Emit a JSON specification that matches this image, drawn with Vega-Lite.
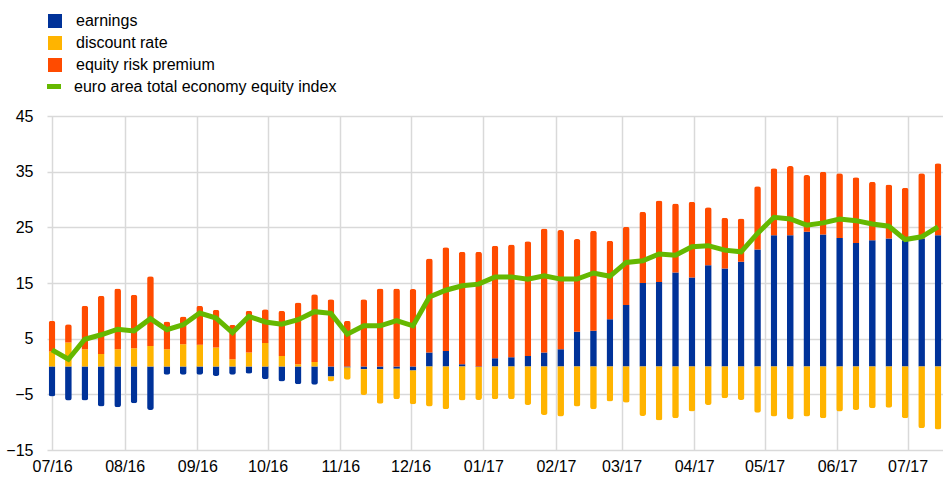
{
  "$schema": "https://vega.github.io/schema/vega-lite/v6.json",
  "width": 896,
  "height": 334,
  "autosize": "none",
  "padding": {"left": 47, "top": 116, "right": 0, "bottom": 27},
  "background": "white",
  "config": {
    "font": "Liberation Sans",
    "view": {"stroke": null},
    "axis": {
      "labelFont": "Liberation Sans",
      "labelFontSize": 16,
      "labelColor": "#000000",
      "grid": true,
      "gridColor": "#d9d9d9",
      "gridWidth": 1.5,
      "domain": false,
      "ticks": false,
      "tickSize": 0,
      "title": null
    },
    "legend": {
      "labelFont": "Liberation Sans",
      "labelFontSize": 16,
      "labelColor": "#000000",
      "labelLimit": 500,
      "padding": 0
    }
  },
  "datasets": {
    "stackorder": [
      {"series": "earnings", "k": 1},
      {"series": "discount rate", "k": 2},
      {"series": "equity risk premium", "k": 3}
    ]
  },
  "data": {
    "values": [
      {"d": "2016/07/01", "earnings": -5.4, "discount rate": 2.7, "equity risk premium": 5.5, "euro area total economy equity index": 3.0},
      {"d": "2016/07/08", "earnings": -6.1, "discount rate": 4.3, "equity risk premium": 3.3, "euro area total economy equity index": 1.3},
      {"d": "2016/07/15", "earnings": -6.1, "discount rate": 3.1, "equity risk premium": 7.8, "euro area total economy equity index": 4.9},
      {"d": "2016/07/22", "earnings": -7.2, "discount rate": 2.25, "equity risk premium": 10.45, "euro area total economy equity index": 5.7},
      {"d": "2016/07/29", "earnings": -7.3, "discount rate": 3.1, "equity risk premium": 10.9, "euro area total economy equity index": 6.7},
      {"d": "2016/08/05", "earnings": -6.6, "discount rate": 3.3, "equity risk premium": 9.6, "euro area total economy equity index": 6.4},
      {"d": "2016/08/12", "earnings": -7.8, "discount rate": 3.7, "equity risk premium": 12.5, "euro area total economy equity index": 8.6},
      {"d": "2016/08/19", "earnings": -1.5, "discount rate": 3.1, "equity risk premium": 5.0, "euro area total economy equity index": 6.6},
      {"d": "2016/08/26", "earnings": -1.5, "discount rate": 4.0, "equity risk premium": 5.0, "euro area total economy equity index": 7.5},
      {"d": "2016/09/02", "earnings": -1.5, "discount rate": 3.9, "equity risk premium": 7.0, "euro area total economy equity index": 9.6},
      {"d": "2016/09/09", "earnings": -1.7, "discount rate": 3.4, "equity risk premium": 6.8, "euro area total economy equity index": 8.7},
      {"d": "2016/09/16", "earnings": -1.5, "discount rate": 1.3, "equity risk premium": 6.2, "euro area total economy equity index": 6.1},
      {"d": "2016/09/23", "earnings": -1.3, "discount rate": 2.5, "equity risk premium": 7.5, "euro area total economy equity index": 9.0},
      {"d": "2016/09/30", "earnings": -2.3, "discount rate": 4.2, "equity risk premium": 6.1, "euro area total economy equity index": 8.0},
      {"d": "2016/10/07", "earnings": -2.7, "discount rate": 1.9, "equity risk premium": 8.1, "euro area total economy equity index": 7.6},
      {"d": "2016/10/14", "earnings": -3.2, "discount rate": 0.4, "equity risk premium": 11.1, "euro area total economy equity index": 8.4},
      {"d": "2016/10/21", "earnings": -3.3, "discount rate": 0.8, "equity risk premium": 12.2, "euro area total economy equity index": 9.85},
      {"d": "2016/10/28", "earnings": -1.8, "discount rate": -0.9, "equity risk premium": 12.1, "euro area total economy equity index": 9.55},
      {"d": "2016/11/04", "earnings": -0.2, "discount rate": -2.2, "equity risk premium": 8.2, "euro area total economy equity index": 5.8},
      {"d": "2016/11/11", "earnings": -0.5, "discount rate": -4.6, "equity risk premium": 12.1, "euro area total economy equity index": 7.3},
      {"d": "2016/11/18", "earnings": -0.5, "discount rate": -6.2, "equity risk premium": 14.0, "euro area total economy equity index": 7.3},
      {"d": "2016/11/25", "earnings": -0.4, "discount rate": -5.5, "equity risk premium": 14.0, "euro area total economy equity index": 8.25},
      {"d": "2016/12/02", "earnings": -0.7, "discount rate": -6.1, "equity risk premium": 13.9, "euro area total economy equity index": 7.3},
      {"d": "2016/12/09", "earnings": 2.5, "discount rate": -7.2, "equity risk premium": 16.9, "euro area total economy equity index": 12.5},
      {"d": "2016/12/16", "earnings": 2.8, "discount rate": -7.7, "equity risk premium": 18.6, "euro area total economy equity index": 13.7},
      {"d": "2016/12/23", "earnings": 0.4, "discount rate": -6.1, "equity risk premium": 20.2, "euro area total economy equity index": 14.5},
      {"d": "2016/12/30", "earnings": -0.1, "discount rate": -5.9, "equity risk premium": 20.6, "euro area total economy equity index": 14.8},
      {"d": "2017/01/06", "earnings": 1.5, "discount rate": -5.9, "equity risk premium": 20.2, "euro area total economy equity index": 16.1},
      {"d": "2017/01/13", "earnings": 1.65, "discount rate": -5.9, "equity risk premium": 20.25, "euro area total economy equity index": 16.1},
      {"d": "2017/01/20", "earnings": 1.9, "discount rate": -6.9, "equity risk premium": 20.6, "euro area total economy equity index": 15.7},
      {"d": "2017/01/27", "earnings": 2.5, "discount rate": -8.7, "equity risk premium": 22.3, "euro area total economy equity index": 16.3},
      {"d": "2017/02/03", "earnings": 3.1, "discount rate": -9.0, "equity risk premium": 21.4, "euro area total economy equity index": 15.7},
      {"d": "2017/02/10", "earnings": 6.25, "discount rate": -7.2, "equity risk premium": 16.65, "euro area total economy equity index": 15.7},
      {"d": "2017/02/17", "earnings": 6.4, "discount rate": -7.7, "equity risk premium": 18.0, "euro area total economy equity index": 16.8},
      {"d": "2017/02/24", "earnings": 8.5, "discount rate": -6.3, "equity risk premium": 14.1, "euro area total economy equity index": 16.2},
      {"d": "2017/03/03", "earnings": 11.05, "discount rate": -6.5, "equity risk premium": 14.05, "euro area total economy equity index": 18.7},
      {"d": "2017/03/10", "earnings": 15.0, "discount rate": -8.9, "equity risk premium": 12.8, "euro area total economy equity index": 19.0},
      {"d": "2017/03/17", "earnings": 15.2, "discount rate": -9.7, "equity risk premium": 14.6, "euro area total economy equity index": 20.2},
      {"d": "2017/03/24", "earnings": 16.9, "discount rate": -9.3, "equity risk premium": 12.4, "euro area total economy equity index": 20.0},
      {"d": "2017/03/31", "earnings": 16.0, "discount rate": -8.1, "equity risk premium": 13.6, "euro area total economy equity index": 21.5},
      {"d": "2017/04/07", "earnings": 18.2, "discount rate": -6.9, "equity risk premium": 10.4, "euro area total economy equity index": 21.7},
      {"d": "2017/04/14", "earnings": 17.6, "discount rate": -5.7, "equity risk premium": 9.1, "euro area total economy equity index": 20.9},
      {"d": "2017/04/21", "earnings": 18.8, "discount rate": -6.0, "equity risk premium": 7.8, "euro area total economy equity index": 20.6},
      {"d": "2017/04/28", "earnings": 21.0, "discount rate": -8.3, "equity risk premium": 11.4, "euro area total economy equity index": 23.9},
      {"d": "2017/05/05", "earnings": 23.6, "discount rate": -9.0, "equity risk premium": 12.0, "euro area total economy equity index": 26.8},
      {"d": "2017/05/12", "earnings": 23.6, "discount rate": -9.5, "equity risk premium": 12.4, "euro area total economy equity index": 26.5},
      {"d": "2017/05/19", "earnings": 24.2, "discount rate": -9.0, "equity risk premium": 10.2, "euro area total economy equity index": 25.4},
      {"d": "2017/05/26", "earnings": 23.7, "discount rate": -9.3, "equity risk premium": 11.3, "euro area total economy equity index": 25.8},
      {"d": "2017/06/02", "earnings": 23.1, "discount rate": -8.1, "equity risk premium": 11.6, "euro area total economy equity index": 26.5},
      {"d": "2017/06/09", "earnings": 22.2, "discount rate": -7.8, "equity risk premium": 11.8, "euro area total economy equity index": 26.2},
      {"d": "2017/06/16", "earnings": 22.7, "discount rate": -7.5, "equity risk premium": 10.5, "euro area total economy equity index": 25.6},
      {"d": "2017/06/23", "earnings": 23.0, "discount rate": -7.4, "equity risk premium": 9.7, "euro area total economy equity index": 25.2},
      {"d": "2017/06/30", "earnings": 22.7, "discount rate": -9.3, "equity risk premium": 9.4, "euro area total economy equity index": 22.8},
      {"d": "2017/07/07", "earnings": 23.0, "discount rate": -11.1, "equity risk premium": 11.7, "euro area total economy equity index": 23.3},
      {"d": "2017/07/14", "earnings": 23.6, "discount rate": -11.3, "equity risk premium": 12.9, "euro area total economy equity index": 25.1}
    ]
  },
  "layer": [
    {
      "transform": [
        {"fold": ["earnings", "discount rate", "equity risk premium"], "as": ["series", "val"]},
        {"lookup": "series", "from": {"data": {"name": "stackorder"}, "key": "series", "fields": ["k"]}}
      ],
      "mark": {"type": "bar", "size": 6.7, "cornerRadius": 2.5, "clip": false},
      "encoding": {
        "x": {
          "field": "d",
          "type": "temporal",
          "scale": {"domain": [{"year": 2016, "month": 7, "date": 1}, {"year": 2017, "month": 7, "date": 14}]},
          "axis": {
            "format": "%m/%y",
            "tickCount": {"interval": "month", "step": 1},
            "labelFlush": false,
            "labelOverlap": false,
            "labelPadding": 8
          }
        },
        "y": {
          "field": "val",
          "type": "quantitative",
          "stack": "zero",
          "scale": {"domain": [-15, 45], "nice": false, "zero": false},
          "axis": {"values": [-15, -5, 5, 15, 25, 35, 45], "labelPadding": 14}
        },
        "order": {"field": "k", "type": "quantitative", "sort": "ascending"},
        "fill": {
          "field": "series",
          "type": "nominal",
          "scale": {
            "domain": ["earnings", "discount rate", "equity risk premium"],
            "range": ["#003299", "#ffb400", "#ff4b00"]
          },
          "legend": {
            "orient": "none",
            "legendX": 0,
            "legendY": -103,
            "title": null,
            "symbolType": "square",
            "symbolSize": 196,
            "symbolStrokeWidth": 0,
            "labelOffset": 13,
            "rowPadding": 6
          }
        }
      }
    },
    {
      "mark": {"type": "line", "strokeWidth": 5, "clip": false},
      "encoding": {
        "x": {"field": "d", "type": "temporal"},
        "y": {"field": "euro area total economy equity index", "type": "quantitative"},
        "stroke": {
          "datum": "euro area total economy equity index",
          "scale": {"range": ["#65b800"]},
          "legend": {
            "orient": "none",
            "legendX": -2.5,
            "legendY": -39,
            "title": null,
            "symbolType": "stroke",
            "symbolSize": 196,
            "symbolStrokeWidth": 5,
            "labelOffset": 10.5
          }
        }
      }
    }
  ]
}
